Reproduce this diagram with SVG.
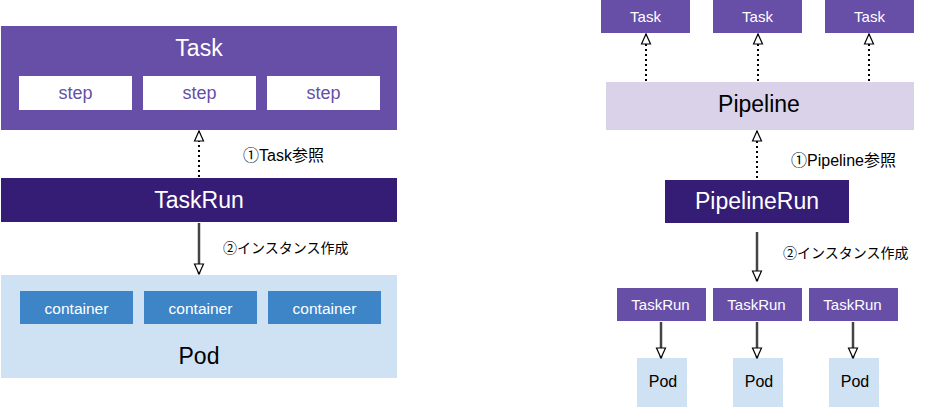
<svg xmlns="http://www.w3.org/2000/svg" width="925" height="408" viewBox="0 0 925 408">
<defs>
<marker id="open" markerUnits="userSpaceOnUse" markerWidth="12" markerHeight="12" viewBox="0 0 12 12" refX="11" refY="6" orient="auto">
<path d="M1,1.5 L11,6 L1,10.5 Z" fill="#fff" stroke="#000" stroke-width="1.2"/>
</marker>
</defs>
<style>
text{font-family:"Liberation Sans","Noto Sans CJK JP",sans-serif;text-anchor:middle;dominant-baseline:central}
.purple{fill:#674ea7}
.dark{fill:#351c75}
.lav{fill:#d9d2e9}
.lblue{fill:#cfe2f3}
.blue{fill:#3d85c6}
.w{fill:#fff}
.big{font-size:23px}
.mid{font-size:18px}
.cont{font-size:15.5px}
.sm{font-size:15px}
.pod{font-size:16px}
.wt{fill:#fff}
.bk{fill:#000}
.pt{fill:#674ea7}
.lbl{font-size:14px;text-anchor:start;fill:#000}
.lbl1{font-size:16px;text-anchor:start;fill:#000}
.dot{stroke:#000;stroke-width:2;stroke-dasharray:2,3;fill:none}
.sol{stroke:#444;stroke-width:2.5;fill:none}
</style>

<g id="task">
<rect class="purple" x="1" y="26" width="396" height="104"/>
<text class="big wt" x="199" y="48">Task</text>
<rect class="w" x="19" y="76" width="113" height="34"/>
<text class="mid pt" x="75.5" y="93">step</text>
<rect class="w" x="143" y="76" width="113" height="34"/>
<text class="mid pt" x="199.5" y="93">step</text>
<rect class="w" x="267" y="76" width="113" height="34"/>
<text class="mid pt" x="323.5" y="93">step</text>
</g>

<g id="taskrun">
<rect class="dark" x="1" y="178" width="396" height="44"/>
<text class="big wt" x="199" y="200">TaskRun</text>
</g>

<g id="pod">
<rect class="lblue" x="1" y="275" width="396" height="103"/>
<rect class="blue" x="20" y="291" width="113" height="33"/>
<text class="cont wt" x="76.5" y="308">container</text>
<rect class="blue" x="144" y="291" width="113" height="33"/>
<text class="cont wt" x="200.5" y="308">container</text>
<rect class="blue" x="268" y="291" width="113" height="33"/>
<text class="cont wt" x="324.5" y="308">container</text>
<text class="big bk" x="199" y="356">Pod</text>
</g>

<g id="p-task1"><rect class="purple" x="601" y="0" width="89" height="33"/><text class="sm wt" x="645.5" y="16">Task</text></g>
<g id="p-task2"><rect class="purple" x="713" y="0" width="89" height="33"/><text class="sm wt" x="757.5" y="16">Task</text></g>
<g id="p-task3"><rect class="purple" x="825" y="0" width="89" height="33"/><text class="sm wt" x="869.5" y="16">Task</text></g>

<g id="pipeline">
<rect class="lav" x="606" y="82" width="308" height="48"/>
<text class="big bk" x="759" y="104">Pipeline</text>
</g>

<g id="pipelinerun">
<rect class="dark" x="665" y="180" width="184" height="43"/>
<text class="big wt" x="757" y="201">PipelineRun</text>
</g>

<g id="tr1"><rect class="purple" x="617" y="288" width="89" height="33"/><text class="sm wt" x="660.5" y="304">TaskRun</text></g>
<g id="tr2"><rect class="purple" x="713" y="288" width="89" height="33"/><text class="sm wt" x="756.5" y="304">TaskRun</text></g>
<g id="tr3"><rect class="purple" x="809" y="288" width="89" height="33"/><text class="sm wt" x="852.5" y="304">TaskRun</text></g>

<g id="pod1"><rect class="lblue" x="637" y="358" width="50" height="49"/><text class="pod bk" x="663" y="381">Pod</text></g>
<g id="pod2"><rect class="lblue" x="733" y="358" width="50" height="49"/><text class="pod bk" x="759" y="381">Pod</text></g>
<g id="pod3"><rect class="lblue" x="829" y="358" width="50" height="49"/><text class="pod bk" x="855" y="381">Pod</text></g>

<g id="connectors">
<line class="dot" x1="199" y1="177" x2="199" y2="131" marker-end="url(#open)"/>
<line class="sol" x1="199" y1="223" x2="199" y2="274" marker-end="url(#open)"/>
<line class="dot" x1="646" y1="81" x2="646" y2="34" marker-end="url(#open)"/>
<line class="dot" x1="758" y1="81" x2="758" y2="34" marker-end="url(#open)"/>
<line class="dot" x1="869" y1="81" x2="869" y2="34" marker-end="url(#open)"/>
<line class="dot" x1="757" y1="178" x2="757" y2="131" marker-end="url(#open)"/>
<line class="sol" x1="757" y1="232" x2="757" y2="281" marker-end="url(#open)"/>
<line class="sol" x1="661" y1="322" x2="661" y2="358" marker-end="url(#open)"/>
<line class="sol" x1="757" y1="322" x2="757" y2="358" marker-end="url(#open)"/>
<line class="sol" x1="853" y1="322" x2="853" y2="358" marker-end="url(#open)"/>
</g>

<g id="labels">
<text class="lbl1" x="243" y="155">①Task参照</text>
<text class="lbl" x="223" y="248">②インスタンス作成</text>
<text class="lbl1" x="791" y="160">①Pipeline参照</text>
<text class="lbl" x="783" y="253">②インスタンス作成</text>
</g>
</svg>
